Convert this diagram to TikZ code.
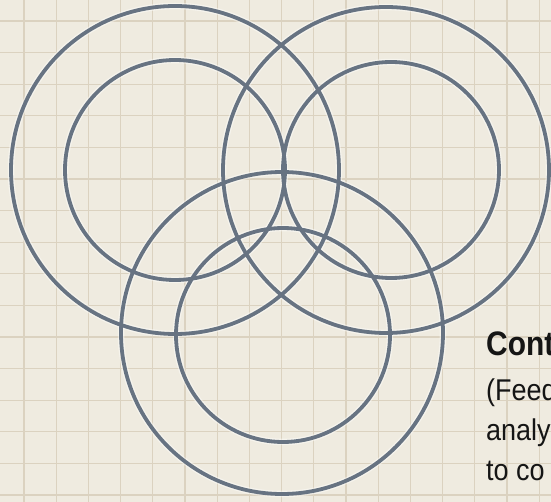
\documentclass[tikz,border=0pt]{standalone}
\usepackage{fontspec}
\newfontfamily\headfont[FakeStretch=0.88]{Liberation Sans}
\newfontfamily\bodyfont[FakeStretch=0.9]{Liberation Sans}
\definecolor{paper}{HTML}{EFEBE0}
\definecolor{gridc}{HTML}{DBD2C0}
\definecolor{ring}{HTML}{677382}
\definecolor{ink}{HTML}{151515}
\begin{document}
\begin{tikzpicture}[x=1pt,y=-1pt,
  ringline/.style={draw=ring, line width=3.8pt},
  halo/.style={draw=white, line width=6.5pt, opacity=0.45},
  gridline/.style={draw=gridc, line width=1.3pt},
  headtxt/.style={anchor=base west, inner sep=0pt, text=ink, font=\headfont\bfseries\fontsize{34}{38}\selectfont},
  bodytxt/.style={anchor=base west, inner sep=0pt, text=ink, font=\bodyfont\fontsize{30}{34}\selectfont}]
\useasboundingbox (0,0) rectangle (551,502);
\clip (0,0) rectangle (551,502);
\fill[paper] (0,0) rectangle (551,502);
% grid
\foreach \i in {0,...,17} { \draw[gridline] ({-8.2+32.2*\i},0) -- ({-8.2+32.2*\i},502); }
\foreach \j in {0,...,16} { \draw[gridline] (0,{-10.6+31.6*\j}) -- (551,{-10.6+31.6*\j}); }
% halos
\foreach \cx/\cy/\r in {175/170/164, 175/170/110, 386/170/163, 391/170/108, 282/333/161, 283/335/107}
  { \draw[halo] (\cx,\cy) circle (\r); }
% rings
\draw[ringline] (175,170) circle (164);
\draw[ringline] (175,170) circle (110);
\draw[ringline] (386,170) circle (163);
\draw[ringline] (391,170) circle (108);
\draw[ringline] (282,333) circle (161);
\draw[ringline] (283,335) circle (107);
% text
\node[headtxt] (head) at (486,355) {Cont};
\node[bodytxt] (l1) at (486,400) {(Feed};
\node[bodytxt] (l2) at (486,440) {analy};
\node[bodytxt] (l3) at (486,480) {to co};
\end{tikzpicture}
\end{document}
